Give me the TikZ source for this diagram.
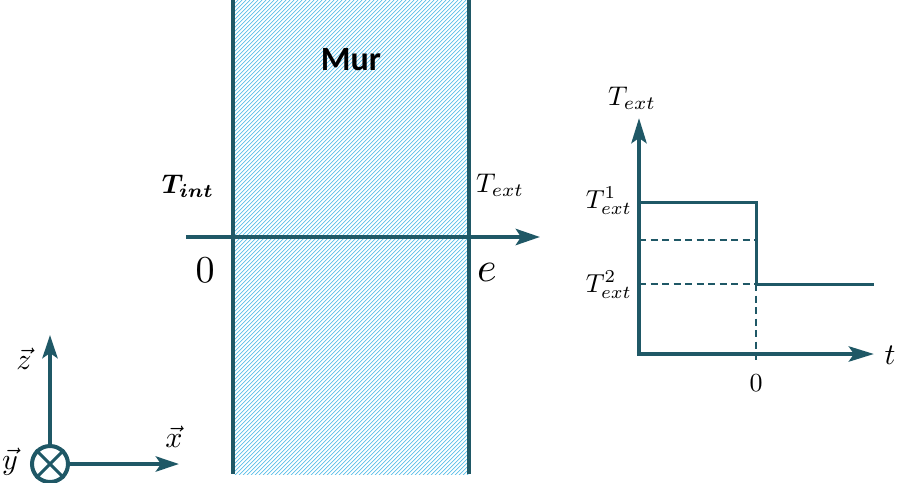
\documentclass[tikz,border=0pt]{standalone}
\usepackage{graphicx}
\usepackage{bm}
\usepackage{fontspec}
\newfontfamily\carlito{Carlito}
\usetikzlibrary{arrows.meta}
\definecolor{teal}{RGB}{31,88,102}
\definecolor{hatch}{RGB}{90,190,232}
\newcommand{\mlbl}[2]{\scalebox{#1}{$#2$}}
\begin{document}
\begin{tikzpicture}[x=1pt,y=-1pt,
  wall/.style={draw=teal,line width=4.5pt},
  axis/.style={draw=teal,line width=4.5pt,-{Stealth[length=24pt,width=16pt,inset=5pt]}},
  step line/.style={draw=teal,line width=3pt},
  dashline/.style={draw=teal,line width=2pt,dash pattern=on 7pt off 4.5pt},
  hatchline/.style={draw=hatch,line width=0.7pt},
  lbl/.style={inner sep=0pt,text=black,font=\fontsize{10}{12}\selectfont},
]
\useasboundingbox (0,0) rectangle (901,482);
% hatch
\begin{scope}
\clip (233,0) rectangle (469,474);
\foreach \k in {-250,-246,...,470} {
  \draw[hatchline] (\k,480) -- (\k+480,0);
}
\end{scope}
% wall lines
\coordinate (wl1) at (233,0); \coordinate (wl2) at (233,474);
\coordinate (wr1) at (469,0); \coordinate (wr2) at (469,474);
\draw[wall] (wl1) -- (wl2);
\draw[wall] (wr1) -- (wr2);
% main axis
\coordinate (ax0) at (186,237); \coordinate (ax1) at (540,237);
\draw[axis] (ax0) -- (ax1);
\node[lbl,font=\carlito\bfseries\fontsize{34}{40}\selectfont] (mur) at (351,60) {Mur};
\node[lbl] (tint) at (188,186) {\mlbl{2.7}{\bm{T_{int}}}};
\node[lbl] (text) at (500,185) {\mlbl{2.7}{T_{ext}}};
\node[lbl] (zero) at (205,270) {\mlbl{3.8}{0}};
\node[lbl] (e) at (487,272) {\mlbl{4.2}{e}};
% chart
\coordinate (o) at (639,354);
\coordinate (ytip) at (639,118);
\coordinate (xtip) at (874,354);
\coordinate (s0) at (639,202);
\coordinate (s1) at (756,202);
\coordinate (s2) at (756,284);
\coordinate (s3) at (874,284);
\coordinate (d0) at (639,240);
\coordinate (d1) at (756,240);
\coordinate (d2) at (639,284);
\coordinate (d3) at (756,360);
\draw[dashline] (d0) -- (d1);
\draw[dashline] (d2) -- (s2);
\draw[dashline] (s2) -- (d3);
\draw[step line] (s0) -- (s1) -- (s2) -- (s3);
\draw[axis,-{Stealth[length=25pt,width=15pt,inset=5pt]}] (o) -- (ytip);
\draw[axis,-{Stealth[length=25pt,width=15pt,inset=5pt]}] (o) -- (xtip);
\draw[teal,line width=4.5pt] ([xshift=-2.25pt]o) -- ([xshift=2pt]o);
\node[lbl] (ty) at (632,98) {\mlbl{2.7}{T_{ext}}};
\node[lbl,anchor=east] (t1) at (632,201) {\mlbl{2.6}{T^{1}_{ext}}};
\node[lbl,anchor=east] (t2) at (632,285) {\mlbl{2.6}{T^{2}_{ext}}};
\node[lbl] (z0) at (756,383) {\mlbl{2.6}{0}};
\node[lbl] (tt) at (890,355) {\mlbl{3.0}{t}};
% coordinate system
\node[draw=teal,line width=4pt,circle,minimum size=36pt,inner sep=0pt] (c) at (50,464) {};
\draw[teal,line width=3pt] (c.north east) -- (c.south west);
\draw[teal,line width=3pt] (c.north west) -- (c.south east);
\coordinate (ztip) at (50,335);
\coordinate (xvtip) at (179,464);
\draw[axis,-{Stealth[length=23pt,width=15pt,inset=5pt]}] (c.north) -- (ztip);
\draw[axis,-{Stealth[length=23pt,width=15pt,inset=5pt]}] (c.east) -- (xvtip);
\node[lbl] (zl) at (24,359) {\mlbl{3.0}{\vec{z}}};
\node[lbl] (xl) at (174,437) {\mlbl{3.0}{\vec{x}}};
\node[lbl] (yl) at (10,462) {\mlbl{3.0}{\vec{y}}};
\end{tikzpicture}
\end{document}
